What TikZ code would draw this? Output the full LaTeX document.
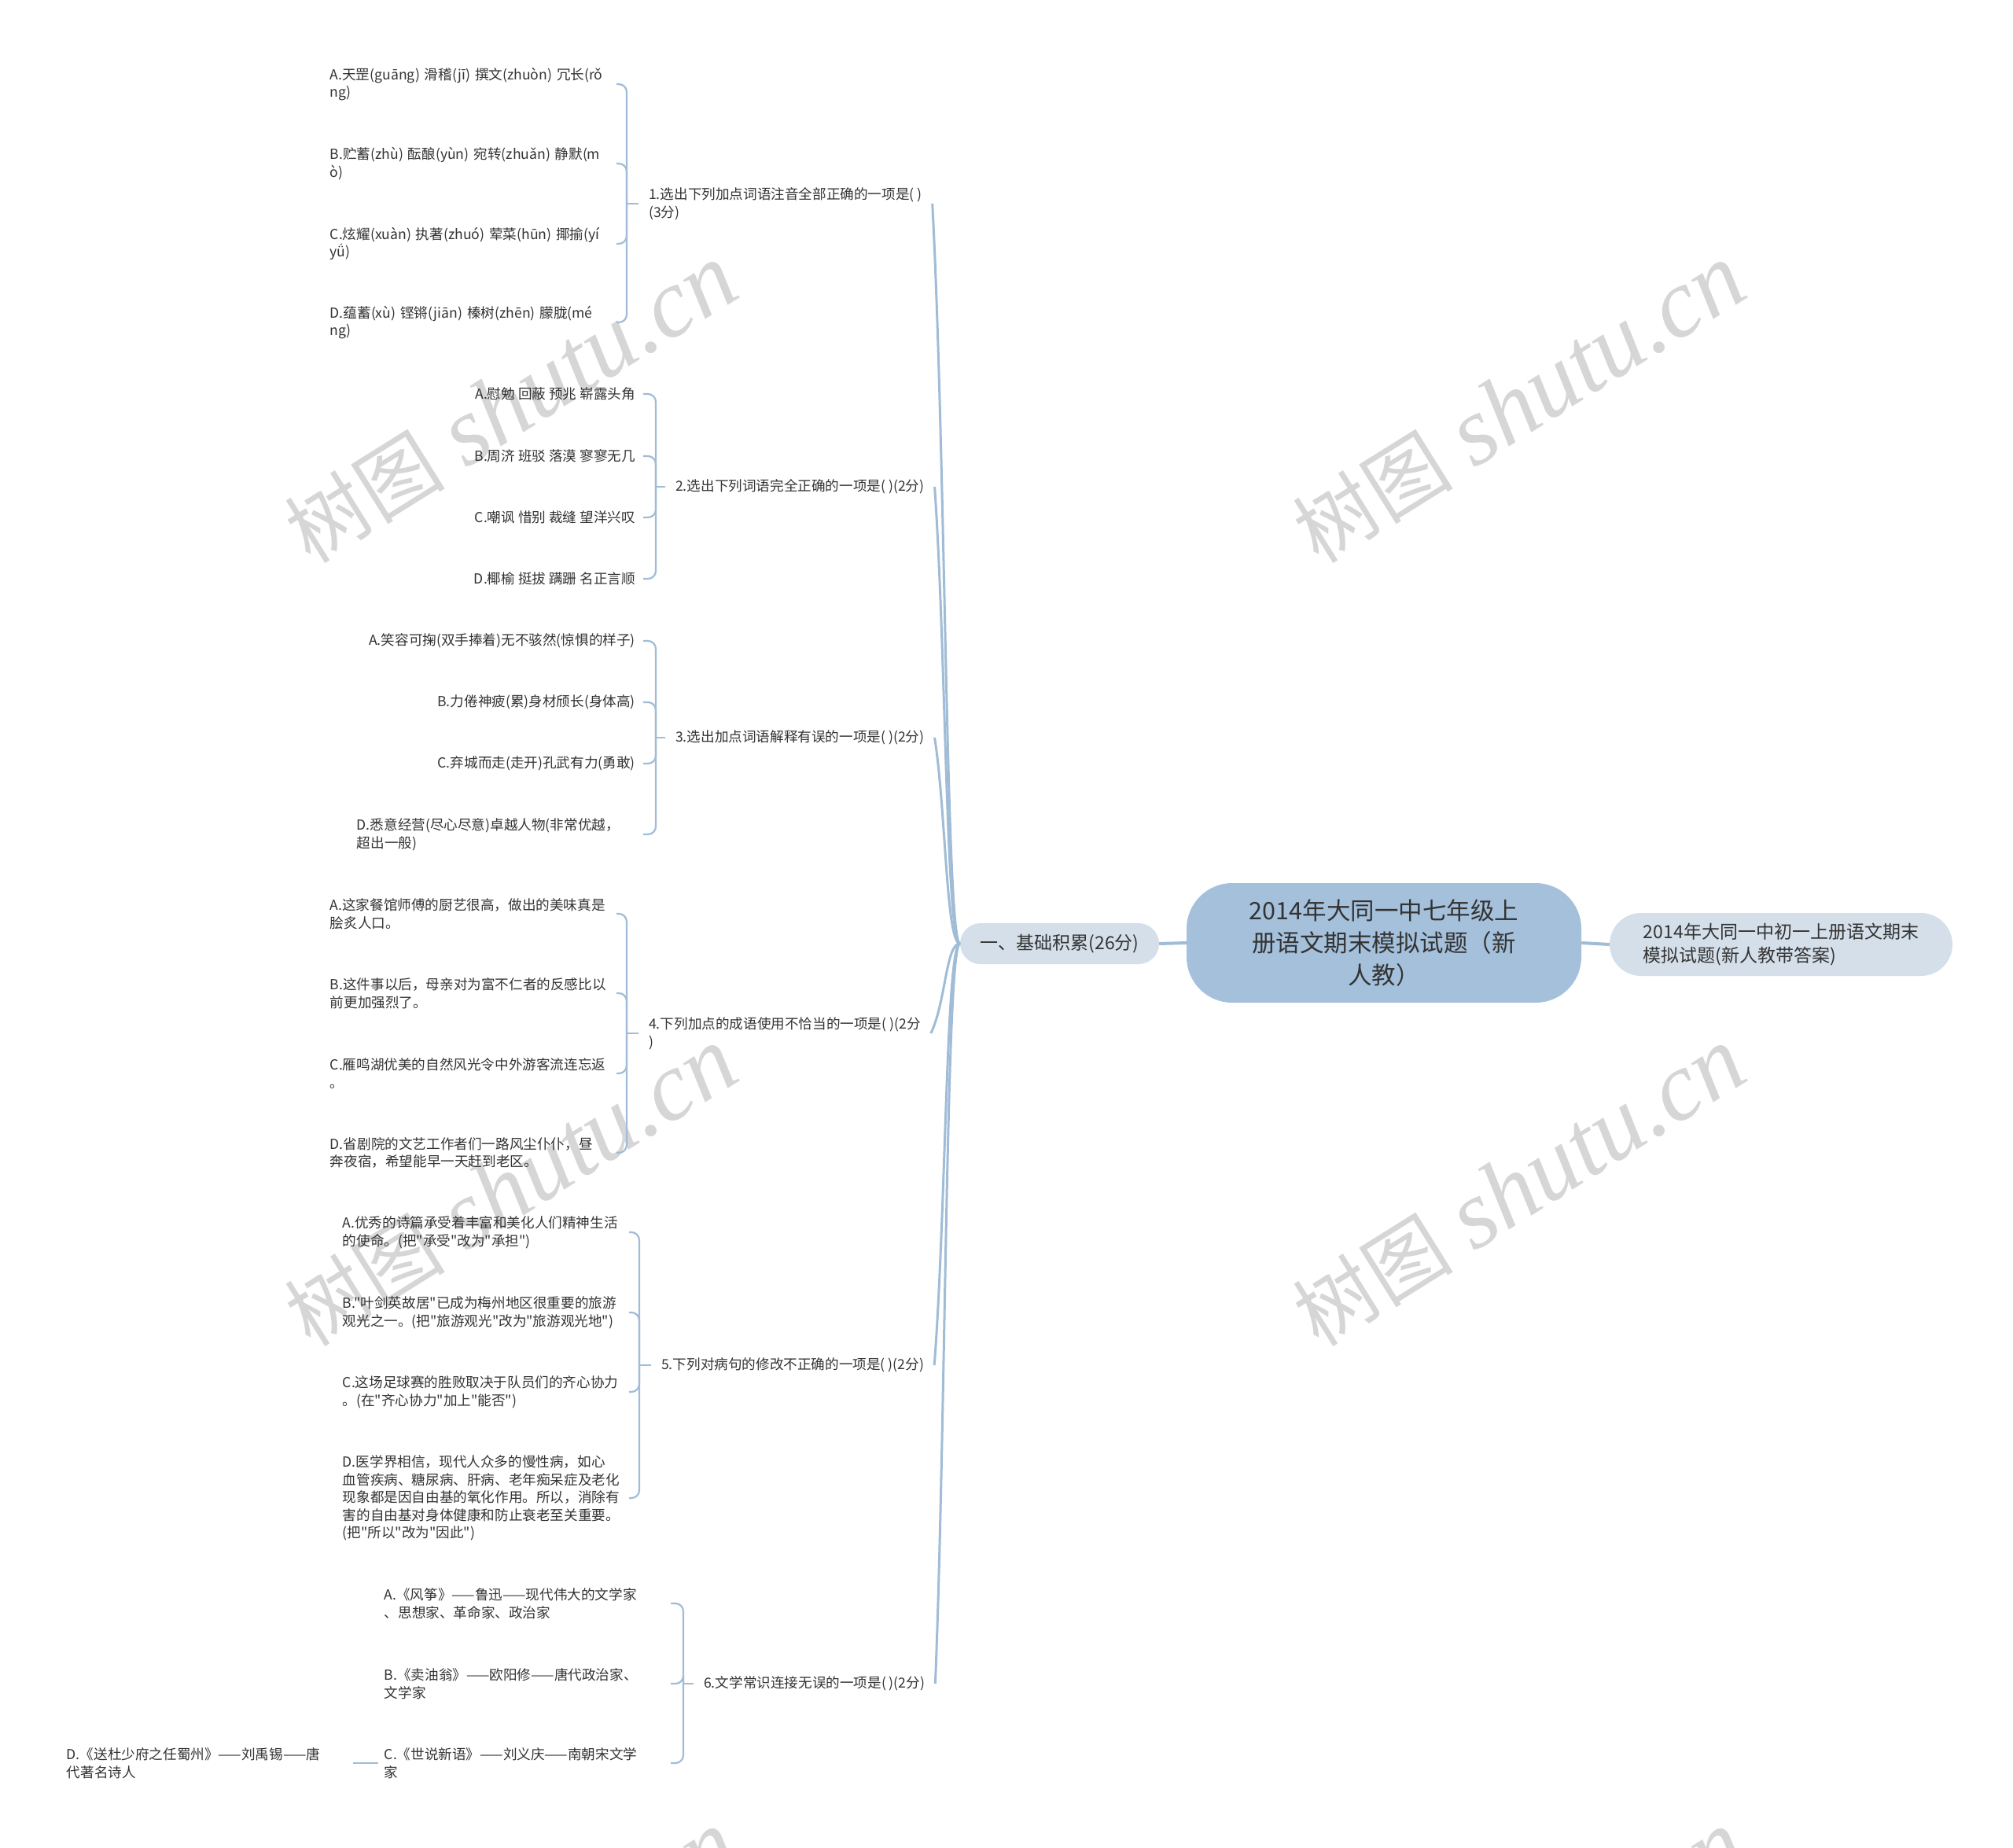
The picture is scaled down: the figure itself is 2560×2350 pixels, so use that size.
\documentclass[tikz,border=0pt]{standalone}
\usepackage{fontspec}
\setmainfont{Noto Sans CJK SC}[Ligatures=TeXOff]
\newfontfamily\wmlat{Liberation Serif}
\definecolor{linec}{RGB}{160,188,214}
\definecolor{rootc}{RGB}{164,192,219}
\definecolor{subc}{RGB}{212,223,233}
\definecolor{txtc}{RGB}{51,51,51}
\definecolor{wmc}{RGB}{214,214,214}
\begin{document}
\begin{tikzpicture}[x=1pt,y=-1pt,
  leaffont/.style={font=\fontsize{17.6pt}{22.6pt}\selectfont},
  leaf/.style={leaffont, text=txtc, inner sep=0pt, text width=364pt, align=left, anchor=east},
  leafr/.style={leaffont, text=txtc, inner xsep=10pt, inner ysep=0pt, anchor=east},
  ques/.style={leaffont, text=txtc, inner xsep=13pt, inner ysep=0pt, align=left, anchor=west},
  br/.style={draw=linec, line width=2.2pt, rounded corners=10pt},
  trunk/.style={draw=linec, line width=3pt},
  rootline/.style={draw=linec, line width=4pt},
  subnode/.style={fill=subc, text=txtc, inner sep=0pt},
  rootnode/.style={fill=rootc, text=txtc, inner sep=0pt, minimum width=502pt, minimum height=152pt, rounded corners=58pt, align=center, font=\fontsize{30.5pt}{41pt}\selectfont},
  wm/.style={text=wmc, rotate=32, inner sep=0pt, font=\fontsize{124pt}{130pt}\selectfont}
]
\useasboundingbox (0,0) rectangle (2560,2350);
\fill[white] (0,0) rectangle (2560,2350);

% watermarks
\begin{scope}
\clip (0,0) rectangle (2560,2350);
\foreach \x/\y [count=\i] in {650/514, 1932/514, 650/1510, 1932/1510, 650/2506, 1932/2506}
  \node[wm] (wm\i) at (\x,\y) {{\fontsize{102pt}{110pt}\selectfont 树图}~{\wmlat\itshape shutu.cn}};
\end{scope}

% central nodes
\node[rootnode] (root) at (1760,1199) {2014年大同一中七年级上\\册语文期末模拟试题（新\\人教）};
\node[subnode, minimum width=436pt, minimum height=80pt, rounded corners=40pt, align=left, font=\fontsize{23pt}{31pt}\selectfont] (r1) at (2265,1201) {2014年大同一中初一上册语文期末\\模拟试题(新人教带答案)};
\node[subnode, minimum width=253pt, minimum height=52pt, rounded corners=26pt, font=\fontsize{23pt}{28pt}\selectfont] (l1) at (1347.5,1200) {一、基础积累(26分)};
\draw[rootline] (root.east) -- (r1.west);
\draw[rootline] (root.west) -- (l1.east);

% questions
\node[ques] (q1) at (812,259) {1.选出下列加点词语注音全部正确的一项是(~)\\(3分)};
\node[ques] (q2) at (846,619) {2.选出下列词语完全正确的一项是(~)(2分)};
\node[ques] (q3) at (846,938) {3.选出加点词语解释有误的一项是(~)(2分)};
\node[ques] (q4) at (812,1314) {4.下列加点的成语使用不恰当的一项是(~)(2分\\)};
\node[ques] (q5) at (828,1736) {5.下列对病句的修改不正确的一项是(~)(2分)};
\node[ques] (q6) at (882,2141) {6.文学常识连接无误的一项是(~)(2分)};

\draw[trunk] (l1.west) .. controls (1203,1199) and (1203,588) .. (q1.east);
\draw[trunk] (l1.west) .. controls (1203,1199) and (1203,822) .. (q2.east);
\draw[trunk] (l1.west) .. controls (1203,1199) and (1203,1029) .. (q3.east);
\draw[trunk] (l1.west) .. controls (1203,1199) and (1203,1274) .. (q4.east);
\draw[trunk] (l1.west) .. controls (1203,1199) and (1203,1548) .. (q5.east);
\draw[trunk] (l1.west) .. controls (1203,1199) and (1203,1811) .. (q6.east);

% junctions
\coordinate (j1) at (797,259);
\coordinate (j2) at (834,619);
\coordinate (j3) at (834,938);
\coordinate (j4) at (797,1314);
\coordinate (j5) at (813,1736);
\coordinate (j6) at (869,2141);
\foreach \k in {1,...,6} \draw[br] (q\k.west) -- (j\k);

% Q1 leaves
\node[leaf] (q1a) at (784,107) {A.天罡(guāng)~滑稽(jī)~撰文(zhuòn)~冗长(rǒ\\ng)};
\node[leaf] (q1b) at (784,208) {B.贮蓄(zhù)~酝酿(yùn)~宛转(zhuǎn)~静默(m\\ò)};
\node[leaf] (q1c) at (784,310) {C.炫耀(xuàn)~执著(zhuó)~荤菜(hūn)~揶揄(yí\\yǘ)};
\node[leaf] (q1d) at (784,410) {D.蕴蓄(xù)~铿锵(jiān)~榛树(zhēn)~朦胧(mé\\ng)};
\foreach \c in {a,b,c,d} \draw[br] (j1) |- (q1\c.east);

% Q2 leaves
\node[leafr] (q2a) at (818,501) {A.慰勉~回蔽~预兆~崭露头角};
\node[leafr] (q2b) at (818,580) {B.周济~班驳~落漠~寥寥无几};
\node[leafr] (q2c) at (818,658) {C.嘲讽~惜别~裁缝~望洋兴叹};
\node[leafr] (q2d) at (818,736) {D.椰榆~挺拔~蹒跚~名正言顺};
\foreach \c in {a,b,c,d} \draw[br] (j2) |- (q2\c.east);

% Q3 leaves
\node[leafr] (q3a) at (818,815) {A.笑容可掬(双手捧着)无不骇然(惊惧的样子)};
\node[leafr] (q3b) at (818,893) {B.力倦神疲(累)身材颀长(身体高)};
\node[leafr] (q3c) at (818,971) {C.弃城而走(走开)孔武有力(勇敢)};
\node[leaf] (q3d) at (818,1061) {D.悉意经营(尽心尽意)卓越人物(非常优越，\\超出一般)};
\foreach \c in {a,b,c,d} \draw[br] (j3) |- (q3\c.east);

% Q4 leaves
\node[leaf] (q4a) at (784,1162) {A.这家餐馆师傅的厨艺很高，做出的美味真是\\脍炙人口。};
\node[leaf] (q4b) at (784,1263) {B.这件事以后，母亲对为富不仁者的反感比以\\前更加强烈了。};
\node[leaf] (q4c) at (784,1365) {C.雁鸣湖优美的自然风光令中外游客流连忘返\\。};
\node[leaf] (q4d) at (784,1466) {D.省剧院的文艺工作者们一路风尘仆仆，昼\\奔夜宿，希望能早一天赶到老区。};
\foreach \c in {a,b,c,d} \draw[br] (j4) |- (q4\c.east);

% Q5 leaves
\node[leaf] (q5a) at (800,1567) {A.优秀的诗篇承受着丰富和美化人们精神生活\\的使命。(把"承受"改为"承担")};
\node[leaf] (q5b) at (800,1669) {B."叶剑英故居"已成为梅州地区很重要的旅游\\观光之一。(把"旅游观光"改为"旅游观光地")};
\node[leaf] (q5c) at (800,1770) {C.这场足球赛的胜败取决于队员们的齐心协力\\。(在"齐心协力"加上"能否")};
\node[leaf] (q5d) at (800,1905) {D.医学界相信，现代人众多的慢性病，如心\\血管疾病、糖尿病、肝病、老年痴呆症及老化\\现象都是因自由基的氧化作用。所以，消除有\\害的自由基对身体健康和防止衰老至关重要。\\(把"所以"改为"因此")};
\foreach \c in {a,b,c,d} \draw[br] (j5) |- (q5\c.east);

% Q6 leaves
\node[leaf] (q6a) at (853,2039) {A.《风筝》——鲁迅——现代伟大的文学家\\、思想家、革命家、政治家};
\node[leaf] (q6b) at (853,2141) {B.《卖油翁》——欧阳修——唐代政治家、\\文学家};
\node[leaf] (q6c) at (853,2242) {C.《世说新语》——刘义庆——南朝宋文学\\家};
\foreach \c in {a,b,c} \draw[br] (j6) |- (q6\c.east);
\node[leaf] (q6e) at (449,2242) {D.《送杜少府之任蜀州》——刘禹锡——唐\\代著名诗人};
\draw[br, shorten <=8pt] (q6c.west) -- (q6e.east);
\end{tikzpicture}
\end{document}
